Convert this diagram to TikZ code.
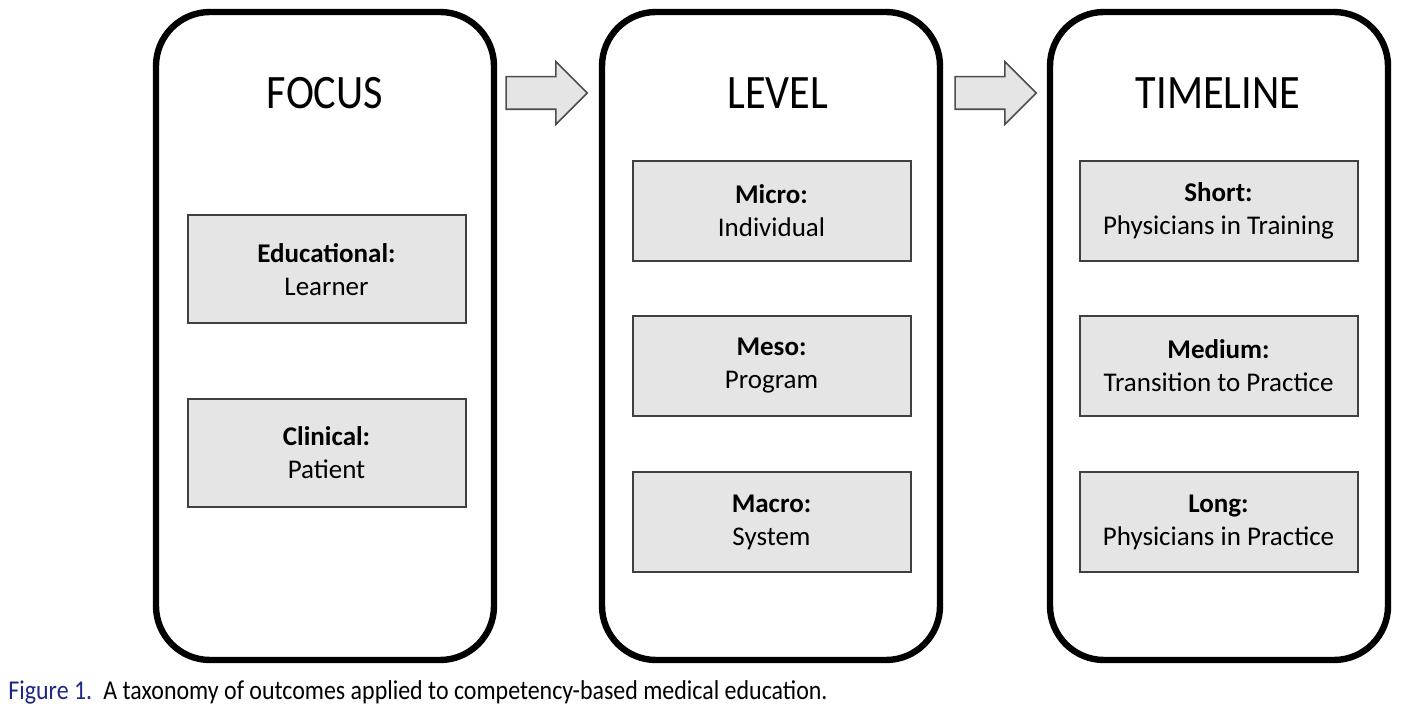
\documentclass[tikz,border=0pt]{standalone}
\usepackage{fontspec}
\setmainfont{Carlito}
\newfontfamily\tallfont[FakeStretch=0.88]{Carlito}
\usetikzlibrary{positioning,shapes.arrows}
\definecolor{figblue}{RGB}{30,40,130}

\begin{document}
\begin{tikzpicture}[
        x=0.5pt, y=-0.5pt,
        panel/.style={draw, line width=3.2pt, rounded corners=27pt,
                      minimum width=169pt, minimum height=324pt},
        title/.style={font=\tallfont\fontsize{24}{28}\selectfont, inner sep=0pt},
        item/.style={draw=black!75, fill=black!10, line width=1pt,
                     minimum width=139pt, minimum height=50pt, align=center,
                     font=\fontsize{13.5}{16.5}\selectfont},
        itemtall/.style={item, minimum height=54pt},
        blockarr/.style={single arrow, draw=black!70, fill=black!10,
                         line width=0.8pt, inner xsep=0pt, inner ysep=7.75pt,
                         minimum height=40.5pt,
                         single arrow head extend=7.5pt}
    ]
        \useasboundingbox (0,0) rectangle (1401,715);

        % columns
        \node[panel] (focus)    at (325,336)  {};
        \node[panel] (level)    at (771,336)  {};
        \node[panel] (timeline) at (1219,336) {};

        \node[title] (tfocus)    at (325,93)  {FOCUS};
        \node[title] (tlevel)    at (778,93)  {LEVEL};
        \node[title] (ttimeline) at (1218,93) {TIMELINE};

        \node[blockarr] (arra) at (538.5,93) {};
        \node[blockarr] (arrb) at (987.5,93) {};

        % focus
        \node[itemtall] (educ) at (326.5,269.5) {\textbf{Educational:}\\Learner};
        \node[itemtall] (clin) at (326.5,453)   {\textbf{Clinical:}\\Patient};

        % level
        \node[item] (micro) at (771.5,211) {\textbf{Micro:}\\Individual};
        \node[item] (meso)  at (771.5,366) {\textbf{Meso:}\\Program};
        \node[item] (macro) at (771.5,522) {\textbf{Macro:}\\System};

        % timeline
        \node[item] (short)  at (1218.5,211) {\textbf{Short:}\\Physicians in Training};
        \node[item] (medium) at (1218.5,366) {\textbf{Medium:}\\Transition to Practice};
        \node[item] (long)   at (1218.5,522) {\textbf{Long:}\\Physicians in Practice};

        \node[anchor=base west, inner sep=0pt, font=\tallfont\fontsize{13.6}{16}\selectfont] (caption) at (8,699)
            {\textcolor{figblue}{Figure 1.}\hspace{2pt} A taxonomy of outcomes applied to competency-based medical education.};
    \end{tikzpicture}
\end{document}
